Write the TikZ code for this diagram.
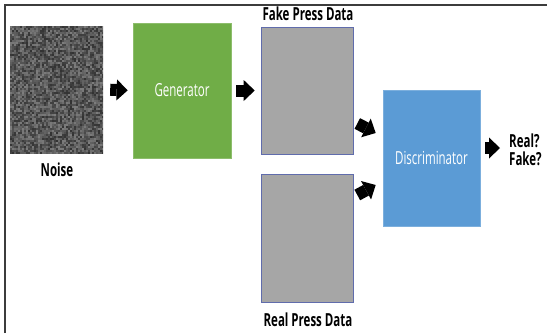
\documentclass[tikz,border=0pt]{standalone}
\usepackage{fontspec}
\setmainfont{Open Sans}[FakeStretch=0.64]
\usetikzlibrary{arrows.meta,calc}

\definecolor{gengreen}{RGB}{112,173,71}
\definecolor{discblue}{RGB}{91,155,213}
\definecolor{datagray}{RGB}{166,166,166}
\definecolor{dataedge}{RGB}{96,108,172}
\definecolor{frameline}{RGB}{60,60,60}

\tikzset{
  netbox/.style={rectangle,inner sep=0pt,line width=0.6pt,text=white,
    font=\fontsize{18}{20}\selectfont},
  databox/.style={rectangle,inner sep=0pt,fill=datagray,draw=dataedge,line width=0.6pt},
  caption/.style={inner sep=0pt,font=\fontsize{18}{18}\selectfont\bfseries},
  blockarrow/.style={line width=12pt,
    -{Triangle[length=11pt,width=21pt,line width=0pt]}}
}

\begin{document}
\begin{tikzpicture}[x=1pt,y=-1pt]
\useasboundingbox (0,0) rectangle (547,333);

% frame lines
\draw[frameline,line width=1.3pt] (5,333) -- (5,5) -- (547,5);

% boxes
\node[rectangle,inner sep=0pt,minimum width=93pt,minimum height=127pt] (noise) at (56.5,89.5) {};
\node[netbox,fill=gengreen,draw=gengreen!80!white,minimum width=98pt,minimum height=135pt] (gen) at (182,90.5) {Generator};
\node[databox,minimum width=92pt,minimum height=127pt] (fake) at (307,90.5) {};
\node[databox,minimum width=92pt,minimum height=128pt] (real) at (307,238) {};
\node[netbox,fill=discblue,draw=discblue!80!white,minimum width=97pt,minimum height=136pt] (disc) at (431.5,158) {Discriminator};

% random gray speckle for the noise input
\begin{scope}
  \clip (noise.north west) rectangle (noise.south east);
  \pgfmathsetseed{4217}
  \foreach \i in {0,...,46}
    \foreach \j in {0,...,63} {
      \pgfmathsetmacro\g{int(20+30*rnd)}
      \fill[white!\g!black] (10+2*\i,26+2*\j) rectangle ++(2.2,2.2);
    }
\end{scope}

% captions
\node[caption] (noiselbl) at (57,170) {Noise};
\node[caption] (fakelbl) at (308,14) {Fake Press Data};
\node[caption] (reallbl) at (308,320) {Real Press Data};
\node[caption,anchor=west,align=left] (verdict) at (509,150) {Real?\\Fake?};

% arrows
\draw[blockarrow,shorten <=7pt,shorten >=5pt] (noise.east) -- (gen.west);
\draw[blockarrow,shorten <=5pt,shorten >=6pt] (gen.east) -- (fake.west);
\draw[blockarrow] ([shift={(4,33)}]fake.east) -- ([shift={(-7,-25)}]disc.west);
\draw[blockarrow] ([shift={(4,-43)}]real.east) -- ([shift={(-7,27)}]disc.west);
\draw[blockarrow] ($(disc.east |- verdict.west)+(5,-2)$) -- ($(verdict.west)+(-9,-2)$);
\end{tikzpicture}
\end{document}
